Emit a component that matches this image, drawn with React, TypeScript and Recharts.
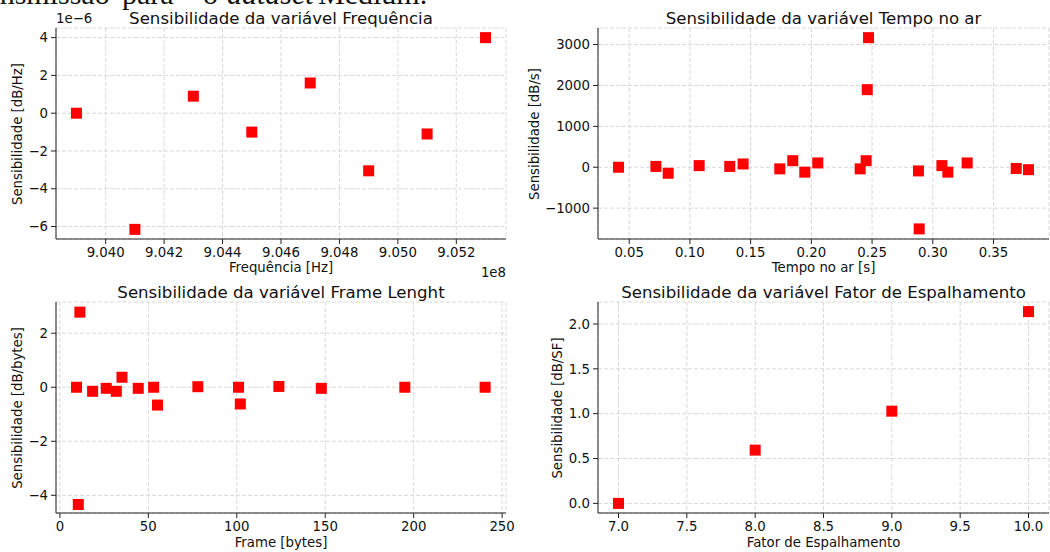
import { ScatterChart, Scatter, XAxis, YAxis, CartesianGrid } from 'recharts'

// Frequência: x em 1e8 Hz, y em 1e-6 dB/Hz
const freqX = [9.039, 9.041, 9.043, 9.045, 9.047, 9.049, 9.051, 9.053]
const freqY = [0, -6.15, 0.9, -1.0, 1.6, -3.05, -1.1, 4.0]
const freqTicksX = [9.04, 9.042, 9.044, 9.046, 9.048, 9.05, 9.052]
const freqTicksY = [-6, -4, -2, 0, 2, 4]

// Tempo no ar
const toaX = [0.0412, 0.072, 0.0821, 0.1076, 0.1328, 0.1438, 0.174, 0.1847, 0.1946, 0.2053, 0.2402, 0.2451, 0.246, 0.2471, 0.2882, 0.2888, 0.3075, 0.3124, 0.3283, 0.3687, 0.3788]
const toaY = [0, 20, -147, 40, 20, 80, -40, 160, -120, 105, -40, 160, 1897, 3169, -90, -1508, 40, -120, 105, -30, -60]
const toaTicksX = [0.05, 0.1, 0.15, 0.2, 0.25, 0.3, 0.35]
const toaTicksY = [-1000, 0, 1000, 2000, 3000]

// Frame Lenght
const frameX = [9.4, 11.3, 10.4, 18.5, 26.2, 31.9, 35.1, 44.3, 53.0, 55.2, 78.0, 101.0, 102.0, 123.8, 147.8, 195.0, 240.4]
const frameY = [0, 2.78, -4.34, -0.15, -0.04, -0.15, 0.37, -0.04, 0, -0.66, 0.02, 0, -0.62, 0.03, -0.04, 0, 0]
const frameTicksX = [0, 50, 100, 150, 200, 250]
const frameTicksY = [-4, -2, 0, 2]

// Fator de Espalhamento
const sfX = [7, 8, 9, 10]
const sfY = [0, 0.594, 1.028, 2.138]
const sfTicksX = [7, 7.5, 8, 8.5, 9, 9.5, 10]
const sfTicksY = [0, 0.5, 1, 1.5, 2]

const FONT = 'DejaVu Sans, sans-serif'
const INK = '#111'

const fmt = (d: number) => (v: number) => v.toFixed(d).replace('-', '\u2212')

const zip = (xs: number[], ys: number[]) => xs.map((x, i) => ({ x, y: ys[i] }))

function Square(props: any) {
  const { cx, cy } = props
  if (cx == null || cy == null) return null
  return <rect x={cx - 5.5} y={cy - 5.5} width={11} height={11} fill="#ff0000" />
}

type PanelProps = {
  left: number
  top: number
  width: number
  height: number
  plot: [number, number, number, number]
  data: { x: number; y: number }[]
  xDomain: [number, number]
  yDomain: [number, number]
  xTicks: number[]
  yTicks: number[]
  xFmt: (v: number) => string
  yFmt: (v: number) => string
}

function Panel({ left, top, width, height, plot, data, xDomain, yDomain, xTicks, yTicks, xFmt, yFmt }: PanelProps) {
  const [x0, y0, x1, y1] = plot
  const xAxisH = 30
  const tick = { fill: INK, fontSize: 13.3, fontFamily: FONT }
  return (
    <div style={{ position: 'absolute', left, top }}>
      <ScatterChart
        width={width}
        height={height}
        margin={{ top: y0 - top, right: left + width - x1, left: 0, bottom: top + height - y1 - xAxisH }}
      >
        <CartesianGrid strokeDasharray="4 2" stroke="#d9d9d9" />
        <XAxis
          type="number"
          dataKey="x"
          domain={xDomain}
          ticks={xTicks}
          allowDataOverflow
          tickFormatter={xFmt}
          tick={tick}
          tickSize={5}
          tickMargin={4}
          height={xAxisH}
          axisLine={{ stroke: '#222' }}
          tickLine={{ stroke: '#222' }}
          interval={0}
        />
        <XAxis xAxisId="top" orientation="top" type="number" domain={xDomain} height={0} tick={false} tickLine={false} axisLine={{ stroke: '#666' }} />
        <YAxis
          type="number"
          dataKey="y"
          domain={yDomain}
          ticks={yTicks}
          allowDataOverflow
          tickFormatter={yFmt}
          tick={tick}
          tickSize={5}
          tickMargin={3}
          width={x0 - left}
          axisLine={{ stroke: '#222' }}
          tickLine={{ stroke: '#222' }}
          interval={0}
        />
        <YAxis yAxisId="right" orientation="right" type="number" domain={yDomain} width={0} tick={false} tickLine={false} axisLine={{ stroke: '#222' }} />
        <Scatter data={data} shape={<Square />} isAnimationActive={false} />
      </ScatterChart>
    </div>
  )
}

function Txt({ x, y, size = 13.3, rotate = false, anchor = 'middle', children }: { x: number; y: number; size?: number; rotate?: boolean; anchor?: 'start' | 'middle' | 'end'; children: React.ReactNode }) {
  const tx = anchor === 'middle' ? '-50%' : anchor === 'end' ? '-100%' : '0'
  return (
    <div
      style={{
        position: 'absolute',
        left: x,
        top: y,
        transform: `translate(${tx}, -50%)${rotate ? ' rotate(-90deg)' : ''}`,
        fontFamily: FONT,
        fontSize: size,
        lineHeight: 1,
        color: INK,
        whiteSpace: 'nowrap',
      }}
    >
      {children}
    </div>
  )
}

function SerifWord({ x, italic, children }: { x: number; italic?: boolean; children: React.ReactNode }) {
  return (
    <span
      style={{
        position: 'absolute',
        left: x,
        top: -21,
        fontFamily: 'Liberation Serif, serif',
        fontSize: 30,
        lineHeight: '30px',
        fontStyle: italic ? 'italic' : 'normal',
        color: '#111',
        whiteSpace: 'nowrap',
      }}
    >
      {children}
    </span>
  )
}

export default function App() {
  return (
    <div style={{ position: 'absolute', left: 0, top: 0, width: 1050, height: 552, overflow: 'hidden', background: '#fff' }}>
      <SerifWord x={-32}>transmissão</SerifWord>
      <SerifWord x={122}>para</SerifWord>
      <SerifWord x={203}>o</SerifWord>
      <SerifWord x={227} italic>dataset</SerifWord>
      <SerifWord x={318}>Medium.</SerifWord>

      <Panel
        left={0} top={0} width={525} height={280}
        plot={[56, 28, 506, 239]}
        data={zip(freqX, freqY)}
        xDomain={[9.0383, 9.0537]} yDomain={[-6.66, 4.51]}
        xTicks={freqTicksX} yTicks={freqTicksY}
        xFmt={fmt(3)} yFmt={fmt(0)}
      />
      <Panel
        left={525} top={0} width={525} height={280}
        plot={[598, 28, 1049, 239]}
        data={zip(toaX, toaY)}
        xDomain={[0.0243, 0.3957]} yDomain={[-1755, 3405]}
        xTicks={toaTicksX} yTicks={toaTicksY}
        xFmt={fmt(2)} yFmt={fmt(0)}
      />
      <Panel
        left={0} top={280} width={525} height={272}
        plot={[56, 302, 506, 513]}
        data={zip(frameX, frameY)}
        xDomain={[-2.2, 252.2]} yDomain={[-4.655, 3.155]}
        xTicks={frameTicksX} yTicks={frameTicksY}
        xFmt={fmt(0)} yFmt={fmt(0)}
      />
      <Panel
        left={525} top={280} width={525} height={272}
        plot={[598, 302, 1049, 513]}
        data={zip(sfX, sfY)}
        xDomain={[6.85, 10.15]} yDomain={[-0.107, 2.245]}
        xTicks={sfTicksX} yTicks={sfTicksY}
        xFmt={fmt(1)} yFmt={fmt(1)}
      />

      <Txt x={281} y={19} size={16.6}>Sensibilidade da variável Frequência</Txt>
      <Txt x={56} y={19} anchor="start">1e{'\u2212'}6</Txt>
      <Txt x={281} y={268}>Frequência [Hz]</Txt>
      <Txt x={506} y={273} anchor="end">1e8</Txt>
      <Txt x={18} y={133.5} rotate>Sensibilidade [dB/Hz]</Txt>

      <Txt x={823.5} y={19} size={16.6}>Sensibilidade da variável Tempo no ar</Txt>
      <Txt x={823.5} y={268}>Tempo no ar [s]</Txt>
      <Txt x={535} y={133.5} rotate>Sensibilidade [dB/s]</Txt>

      <Txt x={281} y={293} size={16.6}>Sensibilidade da variável Frame Lenght</Txt>
      <Txt x={281} y={543}>Frame [bytes]</Txt>
      <Txt x={18} y={408} rotate>Sensibilidade [dB/bytes]</Txt>

      <Txt x={823.5} y={293} size={16.6}>Sensibilidade da variável Fator de Espalhamento</Txt>
      <Txt x={823.5} y={543}>Fator de Espalhamento</Txt>
      <Txt x={558} y={408} rotate>Sensibilidade [dB/SF]</Txt>
    </div>
  )
}
